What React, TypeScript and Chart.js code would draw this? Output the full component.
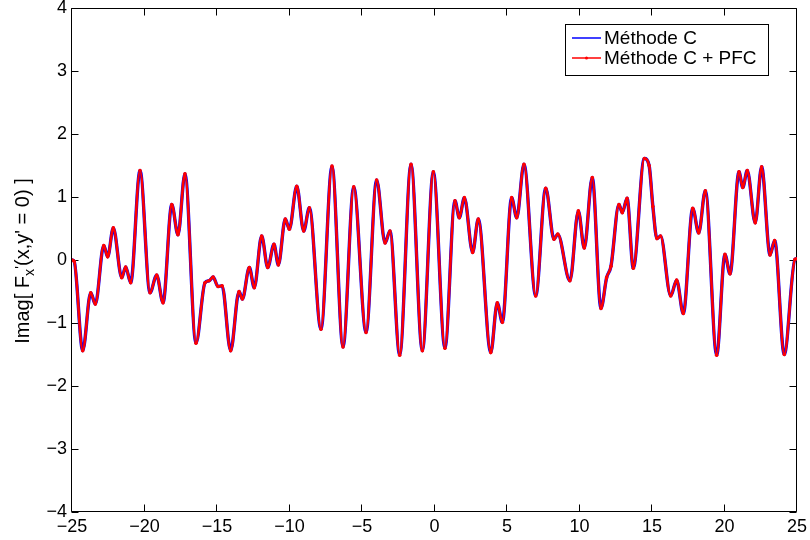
import React, { useEffect, useRef } from "react";
import { Chart, registerables } from "chart.js";

Chart.register(...registerables);

// x positions
const xValues = [
  -25.0, -24.85, -24.26, -23.71, -23.39, -22.81, -22.54, -22.15, -21.57, -21.3,
  -20.95, -20.31, -19.62, -19.16, -18.72, -18.12, -17.69, -17.21, -16.45, -15.83,
  -15.55, -15.27, -14.93, -14.65, -14.06, -13.48, -13.25, -12.77, -12.43, -11.92,
  -11.5, -11.07, -10.77, -10.29, -10.01, -9.5, -9.02, -8.63, -7.83, -7.07,
  -6.31, -5.57, -4.72, -3.99, -3.41, -3.07, -2.4, -1.62, -0.84, -0.08,
  0.72, 1.41, 1.71, 2.06, 2.63, 3.02, 3.88, 4.33, 4.68, 5.32,
  5.67, 6.17, 6.98, 7.67, 8.24, 8.5, 9.34, 9.92, 10.33, 10.88,
  11.48, 11.87, 12.17, 12.72, 12.95, 13.28, 13.71, 14.47, 14.8, 15.06,
  15.34, 15.59, 16.29, 16.7, 17.16, 17.81, 18.22, 18.68, 19.46, 20.03,
  20.38, 21.0, 21.26, 21.57, 22.12, 22.56, 23.14, 23.46, 24.12, 24.86,
  25.0,
];

// Méthode C
const yMethodC = [
  0.0, -0.02, -1.44, -0.52, -0.7, 0.23, 0.05, 0.51, -0.28, -0.11,
  -0.36, 1.42, -0.52, -0.24, -0.68, 0.88, 0.4, 1.37, -1.32, -0.36,
  -0.33, -0.27, -0.42, -0.41, -1.44, -0.5, -0.62, -0.12, -0.44, 0.38,
  -0.12, 0.25, -0.08, 0.65, 0.49, 1.17, 0.46, 0.83, -1.1, 1.49,
  -1.38, 1.16, -1.15, 1.27, 0.27, 0.46, -1.51, 1.52, -1.44, 1.4,
  -1.4, 0.94, 0.67, 0.99, 0.12, 0.65, -1.47, -0.68, -0.99, 0.99,
  0.67, 1.52, -0.57, 1.14, 0.33, 0.41, -0.33, 0.78, 0.19, 1.31,
  -0.77, -0.28, -0.1, 0.88, 0.75, 0.98, -0.13, 1.61, 1.5, 0.85,
  0.34, 0.38, -0.57, -0.32, -0.85, 0.82, 0.43, 1.1, -1.51, 0.09,
  -0.22, 1.4, 1.15, 1.42, 0.59, 1.48, 0.08, 0.31, -1.5, 0.01,
  0.02,
];

// Méthode C + PFC (overlaps Méthode C in the picture)
const yMethodCPFC = [
  0.0, -0.02, -1.44, -0.52, -0.7, 0.23, 0.05, 0.51, -0.28, -0.11,
  -0.36, 1.42, -0.52, -0.24, -0.68, 0.88, 0.4, 1.37, -1.32, -0.36,
  -0.33, -0.27, -0.42, -0.41, -1.44, -0.5, -0.62, -0.12, -0.44, 0.38,
  -0.12, 0.25, -0.08, 0.65, 0.49, 1.17, 0.46, 0.83, -1.1, 1.49,
  -1.38, 1.16, -1.15, 1.27, 0.27, 0.46, -1.51, 1.52, -1.44, 1.4,
  -1.4, 0.94, 0.67, 0.99, 0.12, 0.65, -1.47, -0.68, -0.99, 0.99,
  0.67, 1.52, -0.57, 1.14, 0.33, 0.41, -0.33, 0.78, 0.19, 1.31,
  -0.77, -0.28, -0.1, 0.88, 0.75, 0.98, -0.13, 1.61, 1.5, 0.85,
  0.34, 0.38, -0.57, -0.32, -0.85, 0.82, 0.43, 1.1, -1.51, 0.09,
  -0.22, 1.4, 1.15, 1.42, 0.59, 1.48, 0.08, 0.31, -1.5, 0.01,
  0.02,
];

const seriesNames = ["Méthode C", "Méthode C + PFC"];
const xTickValues = [-25, -20, -15, -10, -5, 0, 5, 10, 15, 20, 25];
const yTickValues = [-4, -3, -2, -1, 0, 1, 2, 3, 4];

const FONT = '"Liberation Sans", Arial, Helvetica, sans-serif';
const TICK_SIZE = 18;

const fmt = (v: number) => (v < 0 ? "\u2212" + Math.abs(v) : String(v));

const framePlugin = {
  id: "matlabFrame",
  beforeDatasetsDraw(chart: any) {
    const { ctx, chartArea: a, scales } = chart;
    ctx.save();
    ctx.strokeStyle = "#000";
    ctx.lineWidth = 1;
    const L = Math.round(a.left) - 0.5;
    const R = Math.round(a.right) - 0.5;
    const T = Math.round(a.top) + 0.5;
    const B = Math.round(a.bottom) - 0.5;
    ctx.beginPath();
    ctx.rect(L, T, R - L, B - T);
    const tl = 7;
    xTickValues.forEach((v) => {
      const px = Math.round(scales.x.getPixelForValue(v)) - 0.5;
      ctx.moveTo(px, B);
      ctx.lineTo(px, B - tl);
      ctx.moveTo(px, T);
      ctx.lineTo(px, T + tl);
    });
    yTickValues.forEach((v) => {
      const py = Math.round(scales.y.getPixelForValue(v)) + 0.5;
      ctx.moveTo(L, py);
      ctx.lineTo(L + tl, py);
      ctx.moveTo(R, py);
      ctx.lineTo(R - tl, py);
    });
    ctx.stroke();
    ctx.restore();
  },
  afterDraw(chart: any) {
    const { ctx, chartArea: a } = chart;
    ctx.save();
    // y-axis title with subscript
    const fs = 20;
    const cx = 23;
    const cy = (a.top + a.bottom) / 2 + 1;
    const p1 = "Imag[ F";
    const sub = "x";
    const prime = "'";
    const p2 = "(x,y' = 0) ]";
    ctx.font = `${fs}px ${FONT}`;
    const w1 = ctx.measureText(p1).width;
    const w3 = ctx.measureText(p2).width;
    ctx.font = `${fs * 0.72}px ${FONT}`;
    const ws = ctx.measureText(sub).width;
    const wp = ctx.measureText(prime).width;
    const total = w1 + ws + wp + w3;
    ctx.translate(cx, cy);
    ctx.rotate(-Math.PI / 2);
    ctx.fillStyle = "#000";
    ctx.textBaseline = "alphabetic";
    ctx.textAlign = "left";
    let x0 = -total / 2;
    const base = 6;
    ctx.font = `${fs}px ${FONT}`;
    ctx.fillText(p1, x0, base);
    x0 += w1;
    ctx.font = `${fs * 0.72}px ${FONT}`;
    ctx.fillText(sub, x0, base + 5);
    x0 += ws;
    ctx.fillText(prime, x0, base - 4);
    x0 += wp;
    ctx.font = `${fs}px ${FONT}`;
    ctx.fillText(p2, x0, base);
    ctx.restore();

    // legend
    ctx.save();
    const bx = 565.5, by = 24.5, bw = 203, bh = 51;
    ctx.fillStyle = "#fff";
    ctx.fillRect(bx, by, bw, bh);
    ctx.strokeStyle = "#000";
    ctx.lineWidth = 1;
    ctx.strokeRect(bx, by, bw, bh);
    const rows = [
      { y: 38, color: "#0000ff", marker: false },
      { y: 58, color: "#ff0000", marker: true },
    ];
    ctx.font = `19px ${FONT}`;
    ctx.textBaseline = "middle";
    ctx.textAlign = "left";
    rows.forEach((r, i) => {
      ctx.strokeStyle = r.color;
      ctx.lineWidth = 1.5;
      ctx.beginPath();
      ctx.moveTo(572, r.y);
      ctx.lineTo(601, r.y);
      ctx.stroke();
      if (r.marker) {
        ctx.fillStyle = r.color;
        ctx.beginPath();
        ctx.arc(586.5, r.y, 1.5, 0, Math.PI * 2);
        ctx.fill();
      }
      ctx.fillStyle = "#000";
      ctx.fillText(seriesNames[i], 604, r.y + 1);
    });
    ctx.restore();
  },
};

export default function App() {
  const canvasRef = useRef<HTMLCanvasElement | null>(null);

  useEffect(() => {
    document.body.style.margin = "0";
    const canvas = canvasRef.current;
    if (!canvas) return;
    const toPts = (ys: number[]) => xValues.map((x, i) => ({ x, y: ys[i] }));
    const tickFont = { family: FONT, size: TICK_SIZE };
    const chart = new Chart(canvas, {
      type: "line",
      data: {
        datasets: [
          {
            label: seriesNames[0],
            data: toPts(yMethodC),
            borderColor: "#0000ff",
            backgroundColor: "#0000ff",
            borderWidth: 3.4,
            pointRadius: 0,
            cubicInterpolationMode: "monotone",
            fill: false,
            order: 2,
          },
          {
            label: seriesNames[1],
            data: toPts(yMethodCPFC),
            borderColor: "#ff0000",
            backgroundColor: "#ff0000",
            borderWidth: 2.6,
            pointRadius: 1.8,
            pointBorderWidth: 0,
            pointBackgroundColor: "#ff0000",
            cubicInterpolationMode: "monotone",
            fill: false,
            order: 1,
          },
        ],
      },
      options: {
        animation: false,
        responsive: false,
        maintainAspectRatio: false,
        events: [],
        layout: { padding: { top: 8, right: 13, left: 0, bottom: 0 } },
        plugins: {
          legend: { display: false },
          tooltip: { enabled: false },
          title: { display: false },
        },
        scales: {
          x: {
            type: "linear",
            min: -25,
            max: 25,
            grid: { display: false, drawTicks: false },
            border: { display: false },
            ticks: {
              font: tickFont,
              color: "#000",
              padding: 4,
              maxRotation: 0,
              autoSkip: false,
              callback: (v: any) => fmt(Number(v)),
            },
            afterBuildTicks: (s: any) => {
              s.ticks = xTickValues.map((v) => ({ value: v }));
            },
            afterFit: (s: any) => {
              s.height = 28;
              s.paddingLeft = 0;
              s.paddingRight = 0;
            },
          },
          y: {
            type: "linear",
            min: -4,
            max: 4,
            grid: { display: false, drawTicks: false },
            border: { display: false },
            ticks: {
              font: tickFont,
              color: "#000",
              padding: 5,
              autoSkip: false,
              callback: (v: any) => fmt(Number(v)),
            },
            afterBuildTicks: (s: any) => {
              s.ticks = yTickValues.map((v) => ({ value: v }));
            },
            afterFit: (s: any) => {
              s.width = 72;
              s.paddingTop = 0;
              s.paddingBottom = 0;
            },
          },
        },
      },
      plugins: [framePlugin],
    });
    return () => chart.destroy();
  }, []);

  return (
    <div style={{ width: 810, height: 540, background: "#fff" }}>
      <canvas ref={canvasRef} width={810} height={540} style={{ display: "block" }} />
    </div>
  );
}
